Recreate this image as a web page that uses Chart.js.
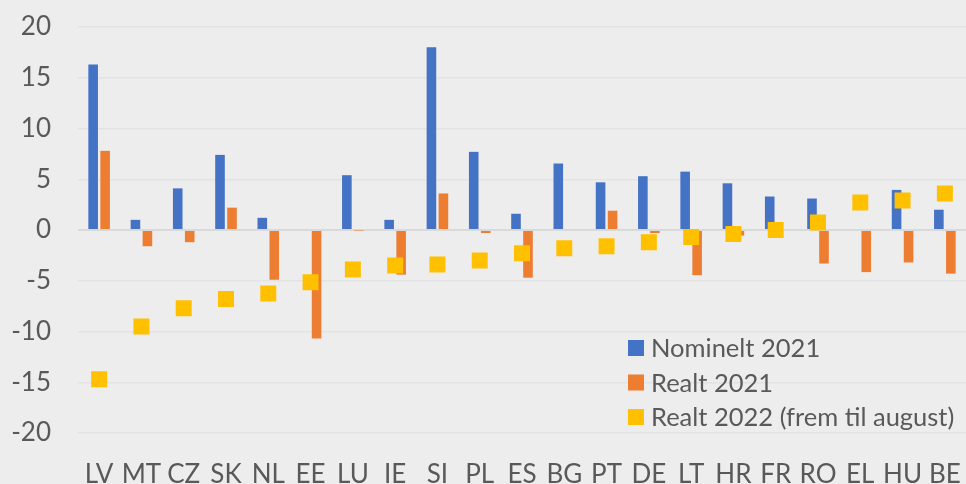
<!DOCTYPE html>
<html>
<head>
<meta charset="utf-8">
<script src="https://cdn.jsdelivr.net/npm/chart.js@4"></script>
<style>
  html, body { margin: 0; padding: 0; background: #ededed; }
  #wrap { width: 966px; height: 484px; position: relative; }
</style>
</head>
<body>
<div id="wrap"><canvas id="BarChart"></canvas></div>
<script>
const countries = ["LV", "MT", "CZ", "SK", "NL", "EE", "LU", "IE", "SI", "PL", "ES", "BG", "PT", "DE", "LT", "HR", "FR", "RO", "EL", "HU", "BE"];
const nominal2021 = [16.3, 1.0, 4.1, 7.4, 1.2, 0, 5.4, 1.0, 18.0, 7.7, 1.6, 6.55, 4.7, 5.3, 5.75, 4.6, 3.3, 3.1, 0, 3.95, 2.0];
const real2021 = [7.8, -1.6, -1.2, 2.2, -4.9, -10.7, -0.05, -4.4, 3.6, -0.3, -4.7, 0, 1.9, -0.3, -4.45, -0.55, -0.1, -3.3, -4.15, -3.2, -4.3];
const real2022 = [-14.7, -9.5, -7.7, -6.8, -6.25, -5.15, -3.9, -3.5, -3.4, -3.0, -2.3, -1.8, -1.6, -1.2, -0.7, -0.4, 0, 0.75, 2.7, 2.9, 3.6];
const yTicks = [-20, -15, -10, -5, 0, 5, 10, 15, 20];

const textColor = "#595959";
const fontFamily = "Lato, 'Open Sans', sans-serif";

// legend drawn inside the plot, lower right, like the Excel original
const insideLegend = {
  id: "insideLegend",
  afterDraw(chart) {
    const { ctx, chartArea } = chart;
    const x0 = chartArea.right - 338;
    const y0 = chartArea.bottom - 85;
    ctx.save();
    ctx.font = "25.5px " + fontFamily;
    ctx.textBaseline = "middle";
    chart.data.datasets.forEach((ds, i) => {
      const y = y0 + i * 34.5;
      ctx.fillStyle = ds.backgroundColor;
      ctx.fillRect(x0, y - 8, 16, 16);
      ctx.fillStyle = textColor;
      ctx.fillText(ds.label, x0 + 23, y + 1);
    });
    ctx.restore();
  },
};

const chartConfig = {
  type: "bar",
  data: {
    labels: countries,
    datasets: [
      {
        label: "Nominelt 2021",
        data: nominal2021,
        backgroundColor: "#4472C4",
        categoryPercentage: 0.567,
        barPercentage: 0.8,
        order: 1,
      },
      {
        label: "Realt 2021",
        data: real2021,
        backgroundColor: "#ED7D31",
        categoryPercentage: 0.567,
        barPercentage: 0.8,
        order: 1,
      },
      {
        type: "line",
        label: "Realt 2022 (frem til august)",
        data: real2022,
        showLine: false,
        backgroundColor: "#FFC000",
        borderColor: "#FFC000",
        pointStyle: "rect",
        pointRadius: 11.3,
        pointHoverRadius: 11.3,
        pointBorderWidth: 0,
        order: 0,
      },
    ],
  },
  options: {
    responsive: true,
    maintainAspectRatio: false,
    animation: false,
    layout: {
      autoPadding: false,
      padding: { top: 27, left: 0, right: 0, bottom: 0 },
    },
    scales: {
      x: {
        grid: { display: false },
        border: { display: false },
        ticks: {
          autoSkip: false,
          maxRotation: 0,
          minRotation: 0,
          padding: 18,
          color: textColor,
          font: { family: fontFamily, size: 26 },
        },
        afterFit(scale) {
          scale.height = 51;
          scale.paddingLeft = 0;
          scale.paddingRight = 0;
        },
      },
      y: {
        min: -20,
        max: 20,
        afterBuildTicks(scale) {
          scale.ticks = yTicks.map(v => ({ value: v }));
        },
        border: { display: false },
        grid: {
          drawTicks: false,
          color: ctx => (ctx.tick && ctx.tick.value === 0 ? "#d9d9d9" : "#e3e3e3"),
          lineWidth: ctx => (ctx.tick && ctx.tick.value === 0 ? 2 : 1.5),
        },
        ticks: {
          padding: 27,
          color: textColor,
          font: { family: fontFamily, size: 26 },
        },
        afterFit(scale) {
          scale.width = 78;
          scale.paddingTop = 0;
          scale.paddingBottom = 0;
        },
      },
    },
    plugins: {
      legend: { display: false },
      tooltip: { enabled: false },
    },
  },
  plugins: [insideLegend],
};

new Chart(document.getElementById("BarChart"), chartConfig);
</script>
</body>
</html>
